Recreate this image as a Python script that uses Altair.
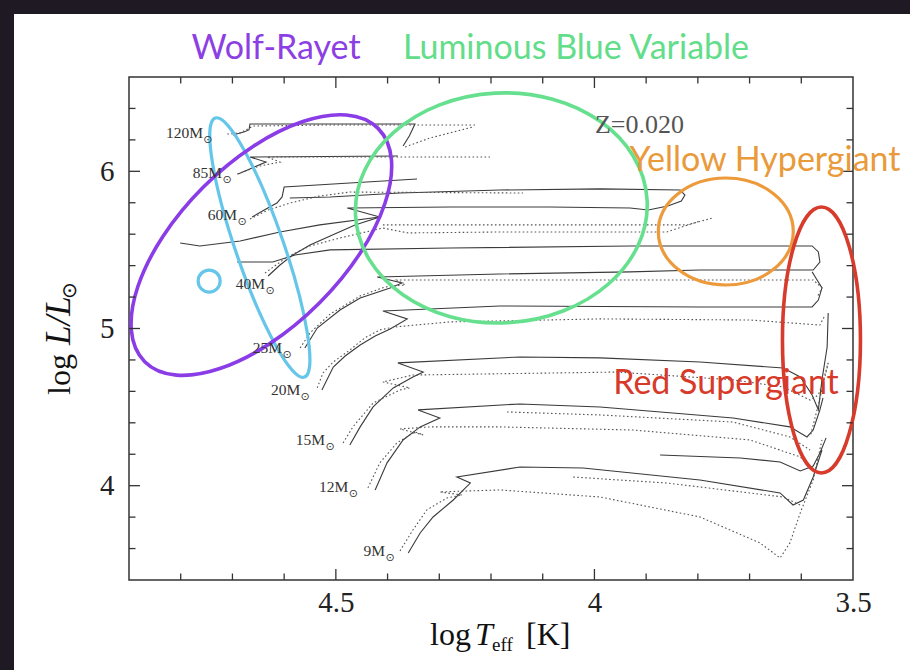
import altair as alt
import pandas as pd

# ---------------- data (log Teff, log L/Lsun) ----------------
# 120 Msun
m120_T = [4.699, 4.678, 4.668, 4.666, 4.511, 4.347, 4.358, 4.370]
m120_L = [6.231, 6.250, 6.263, 6.301, 6.301, 6.301, 6.225, 6.161]
m120r_T = [4.710, 4.685, 4.660, 4.511, 4.231]
m120r_L = [6.237, 6.244, 6.288, 6.295, 6.295]
m120r2_T = [4.366, 4.318, 4.235]
m120r2_L = [6.155, 6.212, 6.282]
# 85 Msun
m85_T = [4.689, 4.662, 4.635, 4.666, 4.380]
m85_L = [5.983, 6.021, 6.059, 6.091, 6.097]
m85r_T = [4.691, 4.647, 4.608, 4.633, 4.202]
m85r_L = [5.983, 6.034, 6.059, 6.091, 6.091]
# 60 Msun
m60_T = [4.662, 4.635, 4.614, 4.604, 4.600, 4.473, 4.343]
m60_L = [5.709, 5.760, 5.798, 5.837, 5.900, 5.926, 5.951]
m60b_T = [4.801, 4.763, 4.685, 4.608, 4.531, 4.415]
m60b_L = [5.544, 5.525, 5.557, 5.614, 5.659, 5.709]
m60r_T = [4.666, 4.631, 4.589, 4.531, 4.473, 4.138]
m60r_L = [5.697, 5.754, 5.798, 5.843, 5.868, 5.862]
# 40 Msun
m40_T = [4.631, 4.608, 4.583, 4.550, 4.511, 4.463, 4.415, 4.478, 4.279, 4.086, 3.931,
         3.896, 3.858, 3.832, 3.825, 3.834, 3.989, 4.183, 4.376, 4.511, 4.589]
m40_L = [5.334, 5.404, 5.468, 5.531, 5.589, 5.659, 5.709, 5.767, 5.773, 5.773, 5.767,
         5.754, 5.779, 5.811, 5.849, 5.881, 5.888, 5.881, 5.862, 5.837, 5.830]
m40r_T = [4.637, 4.594, 4.550, 4.492, 4.409, 4.360, 4.183, 3.931, 3.860, 3.796]
m40r_L = [5.353, 5.455, 5.525, 5.576, 5.639, 5.608, 5.614, 5.614, 5.614, 5.684]
m40r2_T = [4.409, 4.183, 3.931, 3.821, 3.771]
m40r2_L = [5.659, 5.659, 5.659, 5.659, 5.703]
# 25 Msun
m25_T = [4.560, 4.536, 4.492, 4.453, 4.395, 4.372, 4.420, 4.183, 3.931, 3.796, 3.577,
         3.564, 3.567, 3.579, 3.931, 4.279, 4.511, 4.579, 4.622, 4.691]
m25_L = [4.876, 5.003, 5.118, 5.194, 5.258, 5.290, 5.328, 5.347, 5.360, 5.372, 5.372,
         5.423, 5.487, 5.525, 5.525, 5.512, 5.500, 5.468, 5.423, 5.423]
m25r_T = [4.569, 4.550, 4.511, 4.453, 4.405, 4.366, 4.382, 4.183, 3.796, 3.577, 3.560, 3.569]
m25r_L = [4.876, 4.972, 5.092, 5.207, 5.264, 5.277, 5.309, 5.309, 5.309, 5.309, 5.258, 5.201]
# 20 Msun
m20_T = [4.527, 4.505, 4.482, 4.453, 4.424, 4.395, 4.362, 4.409, 4.183, 3.796, 3.579,
         3.567, 3.560, 3.573, 3.579]
m20_L = [4.609, 4.755, 4.825, 4.895, 4.952, 4.997, 5.061, 5.111, 5.143, 5.137, 5.137,
         5.181, 5.258, 5.328, 5.360]
m20r_T = [4.536, 4.525, 4.505, 4.473, 4.444, 4.415, 4.386, 4.279, 3.989, 3.699, 3.564, 3.556]
m20r_L = [4.622, 4.717, 4.787, 4.863, 4.940, 4.991, 5.010, 5.042, 5.061, 5.054, 5.022, 5.073]
# 15 Msun
m15_T = [4.473, 4.453, 4.428, 4.389, 4.351, 4.331, 4.380, 4.144, 3.989, 3.796, 3.635,
         3.602, 3.579, 3.567, 3.560, 3.550, 3.548]
m15_L = [4.259, 4.374, 4.501, 4.622, 4.692, 4.723, 4.781, 4.819, 4.813, 4.787, 4.749,
         4.692, 4.577, 4.482, 4.673, 4.882, 5.099]
m15r_T = [4.486, 4.467, 4.428, 4.376, 4.357, 4.409, 4.351, 3.956, 3.732, 3.635, 3.583,
          3.567, 3.560, 3.548]
m15r_L = [4.272, 4.374, 4.526, 4.609, 4.622, 4.660, 4.704, 4.723, 4.673, 4.628, 4.545,
          4.577, 4.641, 4.781]
m15r2_T = [3.548, 3.560, 3.573, 3.583]
m15r2_L = [4.781, 4.609, 4.437, 4.310]
m15r3_T = [4.169, 3.989, 3.732, 3.622, 3.583]
m15r3_L = [4.469, 4.450, 4.405, 4.310, 4.227]
# 12 Msun
m12_T = [4.424, 4.401, 4.370, 4.337, 4.299, 4.341, 4.144, 3.989, 3.732, 3.622, 3.589,
         3.577, 3.564, 3.558]
m12_L = [3.973, 4.145, 4.291, 4.374, 4.431, 4.482, 4.520, 4.501, 4.431, 4.374, 4.310,
         4.354, 4.482, 4.558]
m12b_T = [3.873, 3.718, 3.641, 3.602, 3.577, 3.564, 3.552]
m12b_L = [4.195, 4.176, 4.151, 4.094, 4.125, 4.208, 4.304]
m12r_T = [4.438, 4.415, 4.382, 4.347, 4.331, 4.376, 4.318, 4.183, 3.925, 3.699, 3.602, 3.579]
m12r_L = [3.986, 4.145, 4.272, 4.342, 4.323, 4.361, 4.374, 4.374, 4.354, 4.291, 4.183, 4.100]
# 9 Msun
m9_T = [4.360, 4.337, 4.312, 4.273, 4.240, 4.266, 4.144, 4.022, 3.796, 3.641, 3.616,
        3.596, 3.577, 3.560]
m9_L = [3.572, 3.699, 3.801, 3.909, 4.017, 4.055, 4.119, 4.113, 4.036, 3.954, 3.877,
        3.909, 4.055, 4.227]
m9r_T = [4.376, 4.351, 4.324, 4.285, 4.256, 4.299, 4.250, 4.183, 3.989, 3.796, 3.680,
         3.641, 3.622, 3.602, 3.577, 3.560]
m9r_L = [3.585, 3.718, 3.846, 3.922, 3.941, 3.960, 3.966, 3.973, 3.928, 3.801, 3.636,
         3.540, 3.636, 3.827, 4.036, 4.291]
m9r2_T = [4.041, 3.860, 3.635, 3.602]
m9r2_L = [4.055, 4.017, 3.928, 3.877]

# mass labels
mass_text = ["120M", "85M", "60M", "40M", "25M", "20M", "15M", "12M", "9M"]
mass_T = [4.757, 4.720, 4.691, 4.637, 4.604, 4.569, 4.521, 4.476, 4.405]
mass_L = [6.212, 5.958, 5.690, 5.251, 4.844, 4.577, 4.259, 3.960, 3.553]

# tick values
x_major = [4.5, 4.0]
x_minor = [4.8, 4.7, 4.6, 4.4, 4.3, 4.2, 4.1, 3.9, 3.8, 3.7, 3.6]
y_major = [4.0, 5.0, 6.0]
y_minor = [3.6, 3.8, 4.2, 4.4, 4.6, 4.8, 5.2, 5.4, 5.6, 5.8, 6.2, 6.4]
x_labels = [4.5, 4.0, 3.5]
y_labels = [4, 5, 6]

# highlighted regions (centre logTeff, centre logL)
wr_T, wr_L = [4.644], [5.531]
wrb_T, wrb_L = [4.647], [5.515]
wrc_T, wrc_L = [4.745], [5.302]
lbv_T, lbv_L = [4.180], [5.767]
yhg_T, yhg_L = [3.746], [5.617]
rsg_T, rsg_L = [3.561], [4.927]

# ---------------- build tables ----------------
segments = [
    ("m120", "solid", m120_T, m120_L), ("m120r", "dot", m120r_T, m120r_L),
    ("m120r2", "dot", m120r2_T, m120r2_L),
    ("m85", "solid", m85_T, m85_L), ("m85r", "dot", m85r_T, m85r_L),
    ("m60", "solid", m60_T, m60_L), ("m60b", "solid", m60b_T, m60b_L),
    ("m60r", "dot", m60r_T, m60r_L),
    ("m40", "solid", m40_T, m40_L), ("m40r", "dot", m40r_T, m40r_L),
    ("m40r2", "dot", m40r2_T, m40r2_L),
    ("m25", "solid", m25_T, m25_L), ("m25r", "dot", m25r_T, m25r_L),
    ("m20", "solid", m20_T, m20_L), ("m20r", "dot", m20r_T, m20r_L),
    ("m15", "solid", m15_T, m15_L), ("m15r", "dot", m15r_T, m15r_L),
    ("m15r2", "dot", m15r2_T, m15r2_L), ("m15r3", "dot", m15r3_T, m15r3_L),
    ("m12", "solid", m12_T, m12_L), ("m12b", "solid", m12b_T, m12b_L),
    ("m12r", "dot", m12r_T, m12r_L),
    ("m9", "solid", m9_T, m9_L), ("m9r", "dot", m9r_T, m9r_L),
    ("m9r2", "dot", m9r2_T, m9r2_L),
]
rows = []
for name, style, T, L in segments:
    for i, (t, l) in enumerate(zip(T, L)):
        rows.append({"seg": name, "style": style, "order": i, "logT": t, "logL": l})
tracks = pd.DataFrame(rows)
solid = tracks[tracks["style"] == "solid"]
dotted = tracks[tracks["style"] == "dot"]

W, H = 724, 503

xs = alt.Scale(domain=[3.5, 4.9], reverse=True, nice=False, zero=False)
ys = alt.Scale(domain=[3.4, 6.6], nice=False, zero=False)
SERIF = "Liberation Serif"
x_axis = alt.Axis(values=x_labels, format="~g", title=None, grid=False, ticks=False,
                  domain=False, labelFont=SERIF, labelFontSize=29, labelColor="#222",
                  labelPadding=8, labelFlush=False)
y_axis = alt.Axis(values=y_labels, format="~g", title=None, grid=False, ticks=False,
                  domain=False, labelFont=SERIF, labelFontSize=29, labelColor="#222",
                  labelPadding=15, labelFlush=False)
X = alt.X("logT:Q", scale=xs, axis=x_axis)
Y = alt.Y("logL:Q", scale=ys, axis=y_axis)

one = pd.DataFrame({"k": [0]})

# dark starry margins
strip_left = alt.Chart(one).mark_rect(color="#1e1922").encode(
    x=alt.value(-129), x2=alt.value(-115), y=alt.value(-77), y2=alt.value(H + 90))
strip_top = alt.Chart(one).mark_rect(color="#1e1922").encode(
    x=alt.value(-129), x2=alt.value(W + 57), y=alt.value(-77), y2=alt.value(-63))

solid_lines = alt.Chart(solid).mark_line(color="#3a3a3a", strokeWidth=1.1).encode(
    x=X, y=Y, detail="seg:N", order="order:Q")
dotted_lines = alt.Chart(dotted).mark_line(color="#555555", strokeWidth=1.1,
                                           strokeDash=[1.6, 2.4]).encode(
    x=X, y=Y, detail="seg:N", order="order:Q")


def ellipse_path(ratio):
    k = 0.5523
    b = ratio
    return (f"M 1 0 C 1 {k*b:.4f} {k} {b:.4f} 0 {b:.4f} "
            f"C {-k} {b:.4f} -1 {k*b:.4f} -1 0 "
            f"C -1 {-k*b:.4f} {-k} {-b:.4f} 0 {-b:.4f} "
            f"C {k} {-b:.4f} 1 {-k*b:.4f} 1 0 Z")


def ellipse(T, L, a, b, angle, color, sw):
    df = pd.DataFrame({"logT": T, "logL": L})
    return alt.Chart(df).mark_point(shape=ellipse_path(b / a), size=(2 * a) ** 2,
                                    angle=angle, filled=False, stroke=color,
                                    strokeWidth=sw, opacity=1).encode(x=X, y=Y)


e_wr = ellipse(wr_T, wr_L, 165, 82, 315, "#8a3de6", 3.6)
e_wrb = ellipse(wrb_T, wrb_L, 137, 24, 71, "#66c6ea", 3.2)
e_wrc = ellipse(wrc_T, wrc_L, 11, 11, 0, "#66c6ea", 3.2)
e_lbv = ellipse(lbv_T, lbv_L, 146, 115, 357, "#66e08f", 3.6)
e_yhg = ellipse(yhg_T, yhg_L, 67.5, 53.5, 0, "#ec9a3c", 3.2)
e_rsg = ellipse(rsg_T, rsg_L, 133, 39, 90, "#d73b2b", 3.6)

# ticks (inward, on all four sides)
xmaj = pd.DataFrame({"logT": x_major})
xmin = pd.DataFrame({"logT": x_minor})
ymaj = pd.DataFrame({"logL": y_major})
ymin = pd.DataFrame({"logL": y_minor})
TC = "#333333"
tick_layers = []
for df, ln in [(xmaj, 11), (xmin, 6.5)]:
    tick_layers.append(alt.Chart(df).mark_rule(color=TC, strokeWidth=1.3).encode(
        x=X, y=alt.value(H), y2=alt.value(H - ln)))
    tick_layers.append(alt.Chart(df).mark_rule(color=TC, strokeWidth=1.3).encode(
        x=X, y=alt.value(0), y2=alt.value(ln)))
for df, ln in [(ymaj, 11), (ymin, 6.5)]:
    tick_layers.append(alt.Chart(df).mark_rule(color=TC, strokeWidth=1.3).encode(
        y=Y, x=alt.value(0), x2=alt.value(ln)))
    tick_layers.append(alt.Chart(df).mark_rule(color=TC, strokeWidth=1.3).encode(
        y=Y, x=alt.value(W), x2=alt.value(W - ln)))

# mass labels
mdf = pd.DataFrame({"logT": mass_T, "logL": mass_L, "txt": mass_text})
mass_lab = alt.Chart(mdf).mark_text(font=SERIF, fontSize=15.5, color="#333", align="right",
                                    baseline="alphabetic").encode(x=X, y=Y, text="txt:N")
mass_sun = alt.Chart(mdf).mark_text(font="DejaVu Sans", fontSize=11, color="#333",
                                    align="center", baseline="middle", dx=5, dy=2,
                                    text="\u2299").encode(x=X, y=Y)

zdf = pd.DataFrame({"logT": [3.999], "logL": [6.244]})
z_lab = alt.Chart(zdf).mark_text(font=SERIF, fontSize=26, color="#555", align="left",
                                 baseline="alphabetic", text="Z=0.020").encode(x=X, y=Y)

SANS = "Lato"


def label(txt, px, py, color, size=34):
    return alt.Chart(one).mark_text(text=txt, font=SANS, fontSize=size, color=color,
                                    align="center", baseline="middle").encode(
        x=alt.value(px), y=alt.value(py))


t_wr = label("Wolf-Rayet", 147, -28, "#8c3fe3")
t_lbv = label("Luminous Blue Variable", 447, -28, "#62dd8a")
t_yhg = label("Yellow Hypergiant", 636, 84, "#e99a3b")
t_rsg = label("Red Supergiant", 597, 307, "#d83a2a")


def piece(txt, px, py, size=32, style="normal", angle=0, align="left"):
    return alt.Chart(one).mark_text(text=txt, font=SERIF, fontSize=size, color="#111",
                                    fontStyle=style, angle=angle, align=align,
                                    baseline="alphabetic").encode(
        x=alt.value(px), y=alt.value(py))


# x title: log T_eff [K]
xt = [piece("log", 301, 568), piece("T", 346, 568, style="italic"),
      piece("eff", 363, 574, size=19), piece("[K]", 397, 568)]
# y title: log L/L_sun (rotated)
yt = [piece("log", -59, 318, angle=270),
      piece("L/L", -59, 268, size=35, style="italic", angle=270),
      piece("\u2299", -53, 222, size=20, angle=270)]

chart = alt.layer(
    strip_left, strip_top, solid_lines, dotted_lines,
    e_wrb, e_wrc, e_wr, e_lbv, e_yhg, e_rsg,
    *tick_layers, mass_lab, mass_sun, z_lab, t_wr, t_lbv, t_yhg, t_rsg, *xt, *yt
).properties(
    width=W, height=H,
    autosize=alt.AutoSizeParams(type="none"),
    padding={"left": 129, "top": 77, "right": 57, "bottom": 90},
    background="white",
).configure_view(stroke="#333333", strokeWidth=1.5)

chart.save("out.html", embed_options={"renderer": "svg", "actions": False})
